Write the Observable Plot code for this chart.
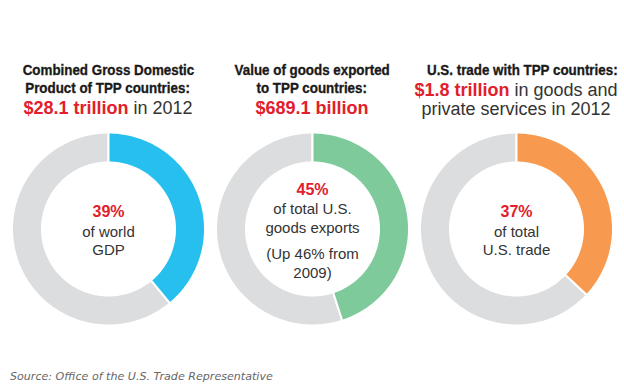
<!DOCTYPE html>
<html><head><meta charset="utf-8">
<script src="https://cdn.jsdelivr.net/npm/d3@7"></script>
<script src="https://cdn.jsdelivr.net/npm/@observablehq/plot@0.6"></script>
<style>
body{margin:0;background:#fff;width:624px;height:390px;overflow:hidden;font-family:"Liberation Sans",Arial,sans-serif}
#titles{display:flex;padding-left:6px;padding-top:61px;height:125px;box-sizing:border-box}
.col{width:204px;text-align:center;white-space:nowrap}
.b{font-family:"Liberation Sans",Arial,sans-serif;font-weight:bold;font-size:15.2px;line-height:17.5px;color:#1a1a1a;-webkit-text-stroke:0.35px #1a1a1a}
.b span{display:inline-block;transform:scaleX(0.88);transform-origin:50% 50%}
.r{font-size:18px;line-height:19px;color:#333}
.r.first{margin-top:2.5px}
.amt{color:#e2202b;font-weight:bold}
#charts{display:flex;padding-left:6px;height:210px}
#source{margin-top:35px;padding-left:10px;font-family:"DejaVu Sans",sans-serif;font-style:italic;font-size:11.1px;line-height:13px;color:#666}
</style></head>
<body>
<div id="titles"></div>
<div id="charts"></div>
<div id="source"></div>
<script>
const charts = ["gdp", "exports", "trade"];
const shares = [39, 45, 37];
const pctLabels = ["39%", "45%", "37%"];
const descLines = [["of world", "GDP"], ["of total U.S.", "goods exports"], ["of total", "U.S. trade"]];
const noteLines = [[], ["(Up 46% from", "2009)"], []];
const titleBold = [["Combined Gross Domestic", "Product of TPP countries:"], ["Value of goods exported", "to TPP countries:"], ["U.S. trade with TPP countries:"]];
const titleAmount = ["$28.1 trillion", "$689.1 billion", "$1.8 trillion"];
const titleRest = [["in 2012"], [], ["in goods and", "private services in 2012"]];
const sourceText = "Source: Office of the U.S. Trade Representative";

const segColors = ["#27bfee", "#7fca9a", "#f79a50"];
const restColor = "#dcdddf";
const red = "#e2202b";
const ink = "#333";
const font = "Liberation Sans, Arial, sans-serif";

// titles
const titles = document.getElementById("titles");
charts.forEach((c, i) => {
  const col = document.createElement("div");
  col.className = "col";
  titleBold[i].forEach(t => {
    const d = document.createElement("div"); d.className = "b";
    const s = document.createElement("span"); s.textContent = t; d.appendChild(s);
    col.appendChild(d);
  });
  const l = document.createElement("div"); l.className = "r first";
  const a = document.createElement("span"); a.className = "amt"; a.textContent = titleAmount[i];
  l.appendChild(a);
  if (titleRest[i][0]) l.appendChild(document.createTextNode(" " + titleRest[i][0]));
  col.appendChild(l);
  titleRest[i].slice(1).forEach(t => {
    const d = document.createElement("div"); d.className = "r"; d.textContent = t; col.appendChild(d);
  });
  titles.appendChild(col);
});

// donuts
const W = 204, H = 210, R = 95.5, CY = 103.5, INNER = 67.5;
function arcPoints(v0, v1, rOut, rIn) {
  const n = Math.max(2, Math.ceil((v1 - v0) * 3.6));
  const pts = [];
  for (let k = 0; k <= n; k++) { const a = 2 * Math.PI * (v0 + (v1 - v0) * k / n) / 100; pts.push([rOut * Math.sin(a), rOut * Math.cos(a)]); }
  for (let k = n; k >= 0; k--) { const a = 2 * Math.PI * (v0 + (v1 - v0) * k / n) / 100; pts.push([rIn * Math.sin(a), rIn * Math.cos(a)]); }
  return pts;
}
const box = document.getElementById("charts");
charts.forEach((c, i) => {
  const rO = 1 + 1 / R, rI = (INNER - 1) / R;
  const marks = [
    Plot.line(arcPoints(shares[i], 100, rO, rI), {x: d => d[0], y: d => d[1], fill: restColor, stroke: "white", strokeWidth: 2, curve: "linear-closed"}),
    Plot.line(arcPoints(0, shares[i], rO, rI), {x: d => d[0], y: d => d[1], fill: segColors[i], stroke: "white", strokeWidth: 2, curve: "linear-closed"})
  ];
  // center text layout (offsets in px relative to pct baseline)
  const offs = [];
  let b = 0;
  offs.push({t: pctLabels[i], o: 0, pct: true});
  b = 19.5;
  descLines[i].forEach((t, j) => { offs.push({t, o: b}); b += 18.5; });
  b -= 18.5;
  if (noteLines[i].length) { b += 26; noteLines[i].forEach(t => { offs.push({t, o: b}); b += 19; }); b -= 19; }
  const base = 1 - (-12 + b) / 2;
  offs.forEach(d => {
    marks.push(Plot.text([d.t], {x: () => 0, y: () => 0, text: d => d, lineAnchor: "bottom", dy: base + d.o,
      fill: d.pct ? red : ink, fontWeight: d.pct ? "bold" : "normal", fontSize: d.pct ? 16 : 15, fontFamily: font}));
  });
  const plot = Plot.plot({
    width: W, height: H, margin: 0,
    x: {domain: [-W / 2 / R, W / 2 / R], axis: null},
    y: {domain: [-(H - CY) / R, CY / R], axis: null},
    marks
  });
  box.appendChild(plot);
});
document.getElementById("source").textContent = sourceText;
</script>
</body></html>
